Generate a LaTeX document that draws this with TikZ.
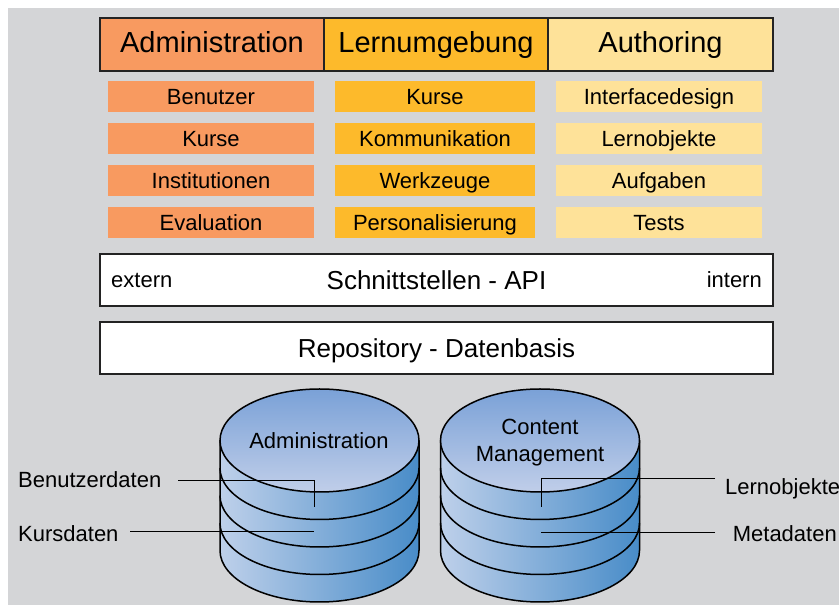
\documentclass[tikz,border=0pt]{standalone}
\usepackage{fontspec}
\setmainfont{Liberation Sans}
\definecolor{bg}{RGB}{212,213,215}
\definecolor{adm}{RGB}{248,154,96}
\definecolor{lern}{RGB}{253,186,43}
\definecolor{auth}{RGB}{254,226,153}
\definecolor{cylL}{RGB}{190,208,234}
\definecolor{cylR}{RGB}{72,140,200}
\definecolor{topT}{RGB}{122,161,215}
\definecolor{topB}{RGB}{192,206,233}
\definecolor{edge}{RGB}{35,35,35}
\newcommand{\mydbcyl}[1]{%
  \shade[left color=cylL,right color=cylR]
    (#1-99.5,164.5) -- (#1-99.5,54.5)
    arc[start angle=180,end angle=360,x radius=99.5,y radius=51.5]
    -- (#1+99.5,164.5) -- cycle;
  \foreach \yy in {137,109.5,82}
    \draw[cylout] (#1-99.5,\yy)
      arc[start angle=180,end angle=360,x radius=99.5,y radius=51.5];
  \draw[cylout] (#1-99.5,164.5) -- (#1-99.5,54.5)
    arc[start angle=180,end angle=360,x radius=99.5,y radius=51.5]
    -- (#1+99.5,164.5);
  \shadedraw[top color=topT,bottom color=topB,cylout]
    (#1,164.5) ellipse[x radius=99.5,y radius=51.5];
}
\begin{document}
\begin{tikzpicture}[x=1pt,y=1pt,
  head/.style={draw=edge,line width=1.6pt,minimum height=53pt,inner sep=0pt,
    text height=21pt,text depth=4pt,font=\fontsize{29}{34}\selectfont},
  sub/.style={minimum height=31pt,inner sep=0pt,text height=16pt,text depth=0pt,
    font=\fontsize{22}{26}\selectfont},
  bar/.style={draw=edge,fill=white,line width=1.6pt,minimum width=673pt,
    minimum height=52pt,inner sep=0pt,text height=19pt,text depth=0pt,
    font=\fontsize{26}{30}\selectfont},
  small/.style={inner sep=0pt,text height=16pt,text depth=0pt,
    font=\fontsize{22}{27}\selectfont},
  lead/.style={line width=1pt,black},
  cylout/.style={draw=black,line width=1.5pt}]
\useasboundingbox (0,0) rectangle (839,605);
\fill[bg] (8,0) rectangle (839,597);

% header
\node[head,fill=adm,minimum width=224pt] (hA) at (212,560.5) {Administration};
\node[head,fill=lern,minimum width=224pt] (hL) at (436,560.5) {Lernumgebung};
\node[head,fill=auth,minimum width=225pt] (hU) at (660.5,560.5) {Authoring};

% sub boxes
\node[sub,fill=adm,minimum width=206pt] (a1) at (211,508.5) {Benutzer};
\node[sub,fill=adm,minimum width=206pt] (a2) at (211,466.5) {Kurse};
\node[sub,fill=adm,minimum width=206pt] (a3) at (211,424.5) {Institutionen};
\node[sub,fill=adm,minimum width=206pt] (a4) at (211,382.5) {Evaluation};
\node[sub,fill=lern,minimum width=200pt] (l1) at (435,508.5) {Kurse};
\node[sub,fill=lern,minimum width=200pt] (l2) at (435,466.5) {Kommunikation};
\node[sub,fill=lern,minimum width=200pt] (l3) at (435,424.5) {Werkzeuge};
\node[sub,fill=lern,minimum width=200pt] (l4) at (435,382.5) {Personalisierung};
\node[sub,fill=auth,minimum width=206pt] (u1) at (659,508.5) {Interfacedesign};
\node[sub,fill=auth,minimum width=206pt] (u2) at (659,466.5) {Lernobjekte};
\node[sub,fill=auth,minimum width=206pt] (u3) at (659,424.5) {Aufgaben};
\node[sub,fill=auth,minimum width=206pt] (u4) at (659,382.5) {Tests};

% bars
\node[bar] (api) at (436.5,325) {Schnittstellen - API};
\node[small,anchor=west] (ext) at (111,325) {extern};
\node[small,anchor=east] (int) at (762,325) {intern};
\node[bar] (rep) at (436.5,257) {Repository - Datenbasis};

% cylinders
\mydbcyl{319.5}
\mydbcyl{540}
\node[small] (cA) at (319,164) {Administration};
\node[small,align=center,text height=,text depth=] (cC) at (540,162) {Content\\Management};

% labels
\node[small,anchor=west] (bd) at (18,125) {Benutzerdaten};
\node[small,anchor=west] (kd) at (18,71) {Kursdaten};
\node[small,anchor=west] (lo) at (725,118) {Lernobjekte};
\node[small,anchor=east] (md) at (837,71.5) {Metadaten};

\coordinate (bd1) at (178,124);
\coordinate (bd2) at (314,124);
\coordinate (bd3) at (314,98);
\coordinate (kd1) at (130,73);
\coordinate (kd2) at (314,73);
\coordinate (lo1) at (715,126);
\coordinate (lo2) at (541,126);
\coordinate (lo3) at (541,98);
\coordinate (md1) at (715,72);
\coordinate (md2) at (541,72);
\draw[lead] (bd1) -- (bd2) -- (bd3);
\draw[lead] (kd1) -- (kd2);
\draw[lead] (lo1) -- (lo2) -- (lo3);
\draw[lead] (md1) -- (md2);
\end{tikzpicture}
\end{document}
